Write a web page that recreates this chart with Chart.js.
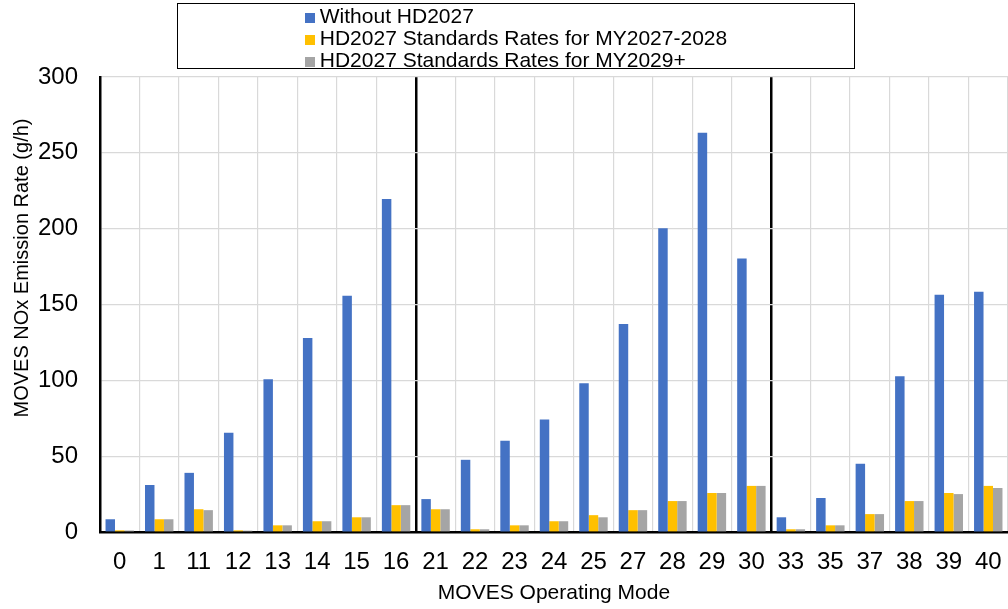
<!DOCTYPE html>
<html>
<head>
<meta charset="utf-8">
<script src="https://cdn.jsdelivr.net/npm/chart.js@4/dist/chart.umd.min.js"></script>
<style>
  body { margin: 0; background: #fff; }
  #wrap { position: relative; width: 1008px; height: 609px; }
  #legend {
    position: absolute; left: 177px; top: 3px; width: 676px; height: 64px;
    border: 1.5px solid #000; background: #fff;
    font-family: 'Liberation Sans', Arial, sans-serif; font-size: 21px; color: #000;
    display: flex; justify-content: center;
  }
  #legend ul { list-style: none; margin: 0; padding: 1px 0 0 0; }
  #legend li { line-height: 22px; white-space: nowrap; }
  #legend span.box { display: inline-block; width: 10px; height: 10px; margin-right: 5px; }
</style>
</head>
<body>
<div id="wrap">
  <canvas id="salesChart" width="1008" height="609"></canvas>
  <div id="legend"></div>
</div>
<script>
const modes = ['0', '1', '11', '12', '13', '14', '15', '16', '21', '22', '23', '24', '25', '27', '28', '29', '30', '33', '35', '37', '38', '39', '40'];
const withoutHD2027 = [8.4, 31, 39, 65.5, 100.7, 127.9, 155.8, 219.5, 21.7, 47.6, 60.2, 74.2, 98, 137.2, 200.3, 263.3, 180.3, 9.7, 22.4, 45, 102.7, 156.4, 158.4];
const ratesMY2027_2028 = [1.1, 8.4, 15, 1.1, 4.4, 7.1, 9.7, 17.7, 15, 1.8, 4.4, 7.1, 11.1, 14.4, 20.4, 25.7, 30.4, 1.8, 4.4, 11.8, 20.4, 25.7, 30.4];
const ratesMY2029plus = [1.0, 8.4, 14.4, 0.9, 4.4, 7.1, 9.7, 17.7, 15, 1.8, 4.4, 7.1, 9.7, 14.4, 20.4, 25.7, 30.4, 1.8, 4.4, 11.8, 20.4, 25.0, 29.0];
const yMin = 0, yMax = 300, yStep = 50;

const FONT = "'Liberation Sans', Arial, sans-serif";
const ctx = document.getElementById('salesChart');

// y axis title drawn by hand, it sits above the plot centre in the original
const yTitle = {
    id: 'yTitle',
    afterDraw(chart) {
        const c = chart.ctx;
        c.save();
        c.translate(22, 268);
        c.rotate(-Math.PI / 2);
        c.font = '20px ' + FONT;
        c.fillStyle = '#000';
        c.textAlign = 'center';
        c.textBaseline = 'middle';
        c.fillText('MOVES NOx Emission Rate (g/h)', 0, 0);
        c.restore();
    }
};

const chart = new Chart(ctx, {
    type: 'bar',
    data: {
        labels: modes,
        datasets: [{
            label: 'Without HD2027',
            data: withoutHD2027,
            backgroundColor: '#4472C4'
        }, {
            label: 'HD2027 Standards Rates for MY2027-2028',
            data: ratesMY2027_2028,
            backgroundColor: '#FFC000'
        }, {
            label: 'HD2027 Standards Rates for MY2029+',
            data: ratesMY2029plus,
            backgroundColor: '#A5A5A5'
        }]
    },
    options: {
        responsive: false,
        animation: false,
        categoryPercentage: 0.72,
        barPercentage: 1.0,
        layout: { padding: { top: 77, left: 0, right: 0, bottom: 0 } },
        plugins: {
            legend: { display: false },
            tooltip: { enabled: false }
        },
        scales: {
            x: {
                grid: {
                    offset: true,
                    drawTicks: false,
                    color: (c) => (c.index === 8 || c.index === 17) ? '#000' : '#d9d9d9',
                    lineWidth: (c) => (c.index === 8 || c.index === 17) ? 2.5 : 1.2
                },
                border: { color: '#000', width: 2.5 },
                ticks: { color: '#000', font: { family: FONT, size: 24 }, padding: 16, maxRotation: 0, autoSkip: false },
                title: { display: true, text: 'MOVES Operating Mode', color: '#000', font: { family: FONT, size: 21 }, padding: { top: 4, bottom: 3 } },
                afterFit(scale) {
                    scale.height = 77;
                    scale.paddingLeft = 0;
                    scale.paddingRight = 0;
                }
            },
            y: {
                min: yMin,
                max: yMax,
                ticks: { stepSize: yStep, color: '#000', font: { family: FONT, size: 24 }, padding: 22 },
                grid: { drawTicks: false, color: '#d9d9d9', lineWidth: 1.2 },
                border: { color: '#000', width: 2.5 },
                afterFit(scale) { scale.width = 100; }
            }
        }
    },
    plugins: [yTitle]
});

// legend built from the datasets
const ul = document.createElement('ul');
chart.data.datasets.forEach(function (ds) {
    const li = document.createElement('li');
    const box = document.createElement('span');
    box.className = 'box';
    box.style.background = ds.backgroundColor;
    li.appendChild(box);
    li.appendChild(document.createTextNode(ds.label));
    ul.appendChild(li);
});
document.getElementById('legend').appendChild(ul);
</script>
</body>
</html>
